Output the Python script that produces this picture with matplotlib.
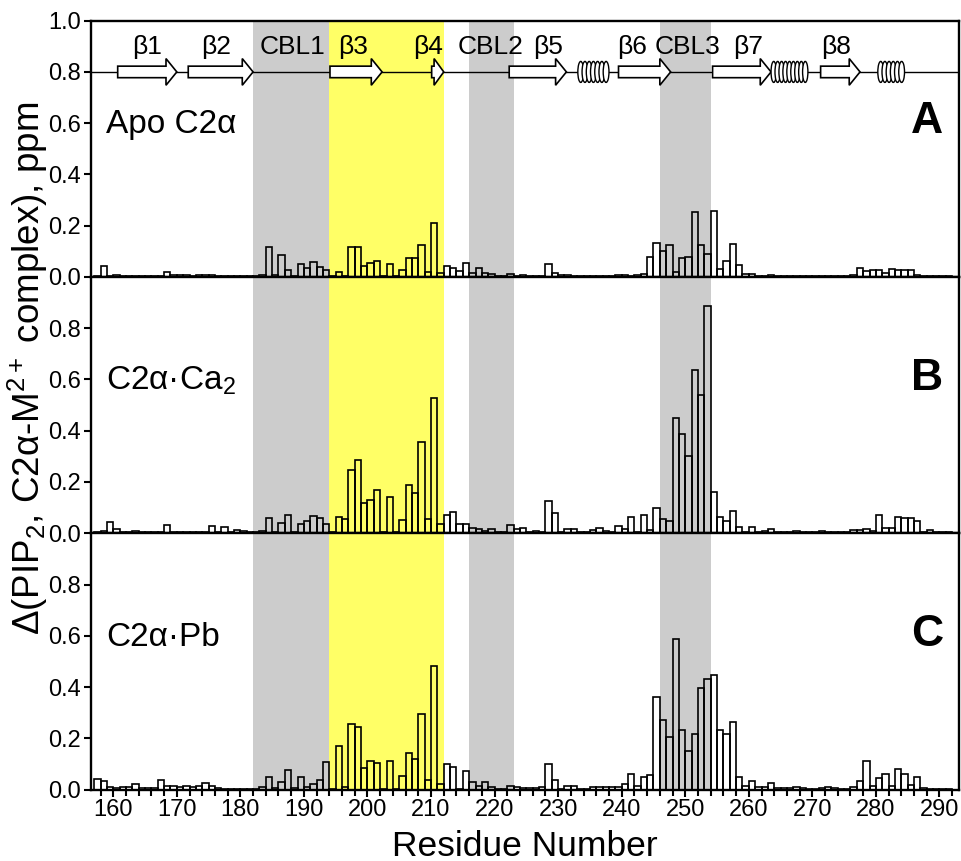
import matplotlib
matplotlib.use("Agg")
import matplotlib.pyplot as plt
from matplotlib.patches import FancyArrow, Ellipse
from matplotlib.ticker import MultipleLocator

plt.rcParams['font.family'] = ['Liberation Sans', 'DejaVu Sans']
plt.rcParams['mathtext.fontset'] = 'custom'
plt.rcParams['mathtext.rm'] = 'Liberation Sans'
plt.rcParams['mathtext.it'] = 'Liberation Sans:italic'

# ----- data: chemical shift change per residue -----
residues = list(range(157, 292))

apo = [
    0.002, 0.041, 0.005, 0.009, 0.003, 0.002, 0.002, 0.002, 0.002, 0.002,  # 157-166
    0.003, 0.019, 0.009, 0.008, 0.008, 0.004, 0.006, 0.006, 0.006, 0.002,  # 167-176
    0.002, 0.002, 0.002, 0.002, 0.002, 0.002, 0.006, 0.115, 0.008, 0.087,  # 177-186
    0.028, 0.003, 0.050, 0.035, 0.057, 0.039, 0.028, 0.003, 0.019, 0.003,  # 187-196
    0.117, 0.117, 0.041, 0.054, 0.061, 0.003, 0.052, 0.003, 0.026, 0.074,  # 197-206
    0.074, 0.123, 0.018, 0.212, 0.016, 0.041, 0.034, 0.022, 0.054, 0.016,  # 207-216
    0.034, 0.016, 0.013, 0.003, 0.003, 0.013, 0.003, 0.008, 0.003, 0.003,  # 217-226
    0.003, 0.052, 0.016, 0.008, 0.008, 0.003, 0.002, 0.002, 0.002, 0.003,  # 227-236
    0.002, 0.002, 0.006, 0.006, 0.004, 0.006, 0.010, 0.078, 0.133, 0.100,  # 237-246
    0.123, 0.018, 0.074, 0.076, 0.253, 0.123, 0.091, 0.259, 0.031, 0.062,  # 247-256
    0.128, 0.048, 0.013, 0.013, 0.003, 0.002, 0.008, 0.002, 0.002, 0.002,  # 257-266
    0.002, 0.002, 0.002, 0.002, 0.002, 0.002, 0.002, 0.002, 0.002, 0.008,  # 267-276
    0.035, 0.022, 0.028, 0.028, 0.016, 0.032, 0.028, 0.028, 0.026, 0.008,  # 277-286
    0.002, 0.002, 0.002, 0.002, 0.002,                                     # 287-291
]

ca2 = [
    0.003, 0.010, 0.044, 0.018, 0.003, 0.003, 0.008, 0.003, 0.003, 0.005,
    0.003, 0.034, 0.006, 0.006, 0.006, 0.003, 0.006, 0.003, 0.027, 0.006,
    0.023, 0.003, 0.014, 0.009, 0.003, 0.003, 0.010, 0.058, 0.003, 0.039,
    0.073, 0.003, 0.038, 0.049, 0.066, 0.060, 0.038, 0.003, 0.065, 0.057,
    0.248, 0.287, 0.118, 0.129, 0.168, 0.003, 0.142, 0.003, 0.053, 0.188,
    0.158, 0.356, 0.057, 0.529, 0.035, 0.071, 0.083, 0.036, 0.036, 0.020,
    0.016, 0.009, 0.016, 0.003, 0.003, 0.031, 0.016, 0.021, 0.003, 0.010,
    0.003, 0.126, 0.080, 0.003, 0.016, 0.016, 0.003, 0.003, 0.013, 0.022,
    0.010, 0.003, 0.027, 0.018, 0.062, 0.003, 0.073, 0.012, 0.097, 0.055,
    0.048, 0.449, 0.387, 0.300, 0.636, 0.538, 0.888, 0.161, 0.065, 0.049,
    0.087, 0.026, 0.006, 0.025, 0.003, 0.010, 0.017, 0.006, 0.003, 0.003,
    0.008, 0.003, 0.003, 0.003, 0.009, 0.003, 0.003, 0.003, 0.003, 0.014,
    0.014, 0.017, 0.009, 0.071, 0.021, 0.021, 0.064, 0.060, 0.060, 0.049,
    0.005, 0.012, 0.003, 0.003, 0.003,
]

pb = [
    0.041, 0.032, 0.010, 0.005, 0.010, 0.010, 0.023, 0.005, 0.005, 0.005,
    0.036, 0.015, 0.015, 0.010, 0.015, 0.008, 0.012, 0.027, 0.012, 0.005,
    0.003, 0.003, 0.003, 0.003, 0.003, 0.003, 0.008, 0.050, 0.005, 0.031,
    0.075, 0.005, 0.049, 0.009, 0.022, 0.036, 0.106, 0.003, 0.168, 0.009,
    0.257, 0.245, 0.085, 0.110, 0.102, 0.003, 0.112, 0.003, 0.052, 0.143,
    0.121, 0.293, 0.039, 0.481, 0.022, 0.099, 0.089, 0.003, 0.071, 0.031,
    0.015, 0.030, 0.009, 0.003, 0.003, 0.015, 0.010, 0.005, 0.005, 0.005,
    0.009, 0.100, 0.037, 0.003, 0.013, 0.013, 0.003, 0.003, 0.008, 0.008,
    0.008, 0.008, 0.008, 0.020, 0.062, 0.015, 0.050, 0.058, 0.361, 0.271,
    0.206, 0.586, 0.232, 0.150, 0.217, 0.397, 0.432, 0.446, 0.232, 0.217,
    0.263, 0.048, 0.015, 0.034, 0.008, 0.008, 0.026, 0.005, 0.005, 0.005,
    0.008, 0.005, 0.003, 0.003, 0.005, 0.010, 0.005, 0.003, 0.003, 0.008,
    0.035, 0.110, 0.012, 0.045, 0.061, 0.013, 0.080, 0.061, 0.019, 0.050,
    0.006, 0.003, 0.003, 0.003, 0.003,
]

panel_names = ["Apo C2\u03b1", "C2\u03b1\u00b7Ca$_{\\mathrm{2}}$", "C2\u03b1\u00b7Pb"]
panel_letters = ["A", "B", "C"]
series = [apo, ca2, pb]

# shaded regions (start, end, colour)
regions = [(182, 194, "#cccccc"), (194, 212, "#ffff66"),
           (216, 223, "#cccccc"), (246, 254, "#cccccc")]

# secondary structure: strands and helices (residue ranges)
strands = [(160.7, 170.0), (171.8, 182.0), (194.1, 202.3), (210.1, 212.0),
           (222.3, 231.3), (239.5, 247.7), (254.3, 263.5), (271.3, 277.5)]
helices = [(233.1, 238.0, 7), (263.5, 269.3, 9), (280.3, 284.5, 6)]
ss_labels = ["\u03b21", "\u03b22", "CBL1", "\u03b23", "\u03b24", "CBL2",
             "\u03b25", "\u03b26", "CBL3", "\u03b27", "\u03b28"]
ss_label_x = [165.3, 176.2, 188.2, 197.8, 209.6, 219.3, 228.4, 241.6,
              250.3, 259.9, 273.8]

fig = plt.figure(figsize=(9.62, 8.61), dpi=100)
axes = fig.subplots(3, 1, sharex=True, gridspec_kw=dict(hspace=0))
fig.subplots_adjust(left=0.0946, right=0.9964, top=0.976, bottom=0.083)

for i, ax in enumerate(axes):
    for x0, x1, c in regions:
        ax.axvspan(x0, x1, color=c, lw=0, zorder=0)
    ax.bar(residues, series[i], width=1, align="edge", facecolor="none",
           edgecolor="black", linewidth=1.2, zorder=2)
    ax.set_xlim(156.5, 293)
    ax.set_ylim(0, 1.0)
    for s in ax.spines.values():
        s.set_linewidth(1.7)
    ax.tick_params(axis="y", direction="out", length=5, width=1.5,
                   labelsize=17, pad=2)
    if i == 0:
        ax.set_yticks([0, 0.2, 0.4, 0.6, 0.8, 1.0])
    else:
        ax.set_yticks([0, 0.2, 0.4, 0.6, 0.8])
    ax.set_yticklabels([f"{v:.1f}" for v in ax.get_yticks()])
    ax.text(0.0173, 0.56, panel_names[i], transform=ax.transAxes,
            fontsize=24, ha="left", va="baseline")
    ax.text(0.982, 0.56, panel_letters[i], transform=ax.transAxes,
            fontsize=32, fontweight="bold", ha="right", va="baseline")
    if i < 2:
        ax.tick_params(axis="x", which="both", bottom=False)

ax = axes[2]
ax.xaxis.set_major_locator(MultipleLocator(10))
ax.xaxis.set_minor_locator(MultipleLocator(2))
ax.tick_params(axis="x", which="major", direction="out", length=5, width=1.5,
               labelsize=17, pad=2)
ax.tick_params(axis="x", which="minor", direction="out", length=4, width=1.5)
ax.set_xlabel("Residue Number", fontsize=25.5, labelpad=6)

# secondary structure cartoon on panel A
top = axes[0]
top.plot([156.5, 293], [0.8, 0.8], color="black", lw=1.0, zorder=3)
for x0, x1 in strands:
    hl = min(1.7, (x1 - x0) * 0.8)
    top.add_patch(FancyArrow(x0, 0.8, x1 - x0, 0, width=0.045,
                             head_width=0.104, head_length=hl,
                             length_includes_head=True, facecolor="white",
                             edgecolor="black", lw=1.2, zorder=4))
for x0, x1, n in helices:
    w = 1.3 * (x1 - x0) / n
    step = (x1 - x0 - w) / (n - 1)
    for k in range(n):
        top.add_patch(Ellipse((x0 + w / 2 + k * step, 0.8), w, 0.082,
                              facecolor="white", edgecolor="black", lw=1.0,
                              zorder=4))
for lab, x in zip(ss_labels, ss_label_x):
    top.text(x, 0.87, lab, fontsize=19, ha="center", va="baseline", zorder=5)

fig.text(0.029, 1 - 368 / 861,
         "\u0394(PIP$_{\\mathrm{2}}$, C2\u03b1-M$^{\\mathrm{2+}}$ complex), ppm",
         rotation=90, fontsize=26.5, ha="center", va="center")

plt.savefig("out.png", dpi=100)
